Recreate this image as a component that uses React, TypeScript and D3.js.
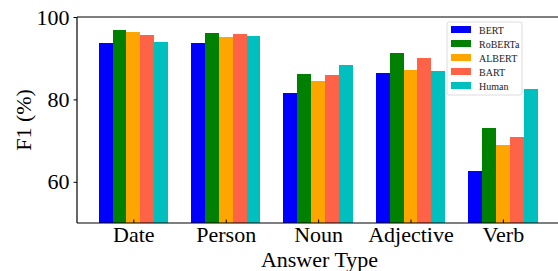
import React, { useRef, useEffect } from 'react';
import * as d3 from 'd3';

const categories = ['Date', 'Person', 'Noun', 'Adjective', 'Verb'];
const models = ['BERT', 'RoBERTa', 'ALBERT', 'BART', 'Human'];
const colors = ['#0000ff', '#008000', '#ffa500', '#ff6347', '#00bfbf'];

const bert = [93.6, 93.6, 81.5, 86.4, 62.6];
const roberta = [96.8, 96.0, 86.1, 91.2, 73.0];
const albert = [96.3, 95.1, 84.4, 87.1, 68.9];
const bart = [95.6, 95.8, 85.9, 90.0, 70.8];
const human = [93.9, 95.3, 88.3, 86.8, 82.5];
const series = [bert, roberta, albert, bart, human];

const yTicks = [60, 80, 100];

const W = 558;
const H = 271;
const FONT = '"Liberation Serif", "DejaVu Serif", serif';

const App = () => {
    const svgRef = useRef(null);

    useEffect(() => {
        const svg = d3.select(svgRef.current);
        svg.selectAll('*').remove();

        const left = 77, right = 562, top = 17, bottom = 223;
        const barW = 0.15;

        const x = d3.scaleLinear().domain([-0.61, 4.64]).range([left, right]);
        const y = d3.scaleLinear().domain([50, 100]).range([bottom, top]);

        // bars
        series.forEach((vals, i) => {
            svg.append('g')
                .selectAll('rect')
                .data(vals)
                .join('rect')
                .attr('x', (_, j) => x(j + (i - 2.5) * barW))
                .attr('width', x(barW) - x(0))
                .attr('y', d => y(d))
                .attr('height', d => y(50) - y(d))
                .attr('fill', colors[i])
                .attr('shape-rendering', 'crispEdges');
        });

        // spines
        const spine = svg.append('g').attr('stroke', '#000').attr('stroke-width', 1.2).attr('fill', 'none');
        spine.append('line').attr('x1', left).attr('x2', left).attr('y1', top).attr('y2', bottom);
        spine.append('line').attr('x1', left).attr('x2', right).attr('y1', bottom).attr('y2', bottom);
        spine.append('line').attr('x1', left).attr('x2', right).attr('y1', top).attr('y2', top);

        // y axis
        const yAxis = svg.append('g')
            .attr('transform', `translate(${left},0)`)
            .call(d3.axisLeft(y).tickValues(yTicks).tickSize(3.5).tickPadding(4));
        yAxis.select('.domain').remove();
        yAxis.selectAll('line').attr('stroke', '#000');
        yAxis.selectAll('text')
            .attr('font-family', FONT)
            .attr('font-size', 22)
            .attr('fill', '#000');

        // x axis, ticks inward
        const xAxis = svg.append('g')
            .attr('transform', `translate(0,${bottom})`)
            .call(d3.axisBottom(x)
                .tickValues(d3.range(categories.length))
                .tickFormat((d: any) => categories[d])
                .tickSizeInner(-3.5)
                .tickSizeOuter(0)
                .tickPadding(3.5));
        xAxis.select('.domain').remove();
        xAxis.selectAll('line').attr('stroke', '#000');
        xAxis.selectAll('text')
            .attr('font-family', FONT)
            .attr('font-size', 22)
            .attr('fill', '#000');

        // axis titles
        svg.append('text')
            .attr('x', (left + right) / 2)
            .attr('y', 267)
            .attr('text-anchor', 'middle')
            .attr('font-family', FONT)
            .attr('font-size', 22)
            .text('Answer Type');

        svg.append('text')
            .attr('transform', `translate(31,${(top + bottom) / 2}) rotate(-90)`)
            .attr('text-anchor', 'middle')
            .attr('font-family', FONT)
            .attr('font-size', 22)
            .text('F1 (%)');

        // legend
        const lg = svg.append('g').attr('transform', 'translate(447,22)');
        lg.append('rect')
            .attr('width', 75).attr('height', 73)
            .attr('rx', 2)
            .attr('fill', '#fff')
            .attr('stroke', '#dcdcdc');
        models.forEach((m, i) => {
            const row = lg.append('g').attr('transform', `translate(4,${4 + i * 14})`);
            row.append('rect').attr('width', 20).attr('height', 7).attr('fill', colors[i]);
            row.append('text')
                .attr('x', 28).attr('y', 7.5)
                .attr('font-family', FONT)
                .attr('font-size', 10)
                .attr('fill', '#222')
                .text(m);
        });
    }, []);

    return (
        <svg ref={svgRef} width={W} height={H}
            style={{ position: 'absolute', left: 0, top: 0, background: '#fff' }} />
    );
};

export default App;
